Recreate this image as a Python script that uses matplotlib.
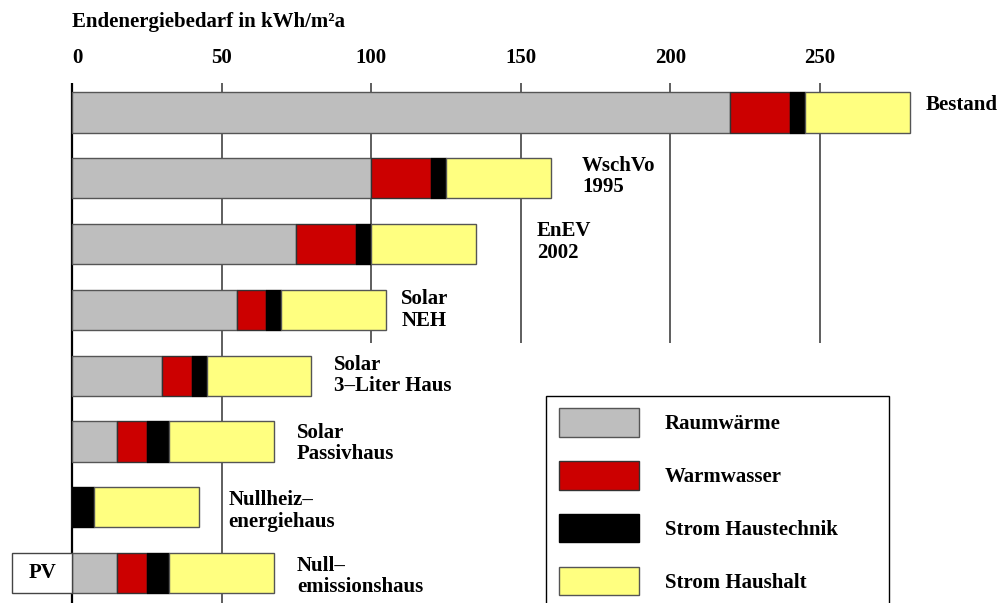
import numpy as np
import matplotlib
matplotlib.use("Agg")
import matplotlib.pyplot as plt

plt.rcParams['font.family'] = ['Liberation Serif', 'DejaVu Serif']
plt.rcParams['font.weight'] = 'bold'
plt.rcParams['font.size'] = 15

# data (kWh/m²a)
categories = ["Bestand", "WschVo\n1995", "EnEV\n2002", "Solar\nNEH",
              "Solar\n3–Liter Haus", "Solar\nPassivhaus",
              "Nullheiz–\nenergiehaus", "Null–\nemissionshaus"]
raumwaerme = [220, 100, 75, 55, 30, 15, 0, 15]
warmwasser = [20, 20, 20, 10, 10, 10, 0, 10]
haustechnik = [5, 5, 5, 5, 5, 7.5, 7.5, 7.5]
haushalt = [35, 35, 35, 35, 35, 35, 35, 35]
pv = -20  # PV credit for Nullemissionshaus

series = [raumwaerme, warmwasser, haustechnik, haushalt]
names = ["Raumwärme", "Warmwasser", "Strom Haustechnik", "Strom Haushalt"]
colors = ['#bebebe', '#cc0000', '#000000', '#ffff80']
edges = ['#555555', '#333333', '#000000', '#555555']
ticks = [0, 50, 100, 150, 200, 250]

# label placement (offset right of bar end, in kWh units)
label_dx = [5.3, 10.4, 20.4, 5.0, 7.7, 7.7, 9.7, 7.7]
label_dy = [-0.12, -0.03, -0.03, 0, 0, 0.03, 0.06, 0.05]

fig = plt.figure(figsize=(9.99, 6.03), dpi=100)
ax = fig.add_axes([0, 0, 1, 520 / 603])
ax.set_xlim(-24.06, 309.8)
ax.set_ylim(7.455, -0.448)

y = np.arange(len(categories))
bar_h = 0.61

# vertical grid lines
for t in ticks:
    ybot = 7.455 if t <= 50 else 3.5
    if t == 0:
        ax.vlines(t, -0.448, ybot, color='black', lw=1.6, zorder=1)
    else:
        ax.vlines(t, -0.448, ybot, color='#333333', lw=1.1, zorder=1)

left = np.zeros(len(categories))
handles = []
for vals, name, c, ec in zip(series, names, colors, edges):
    vals = np.array(vals, dtype=float)
    b = ax.barh(y, vals, left=left, height=bar_h, color=c, edgecolor=ec,
                linewidth=1.0, label=name, zorder=2)
    handles.append(b)
    left += vals

# PV bar
ax.barh(y[-1], pv, height=bar_h, color='white', edgecolor='#444444',
        linewidth=1.0, zorder=2)
ax.text(pv / 2, y[-1], "PV", ha='center', va='center', zorder=3)

for i, cat in enumerate(categories):
    ax.text(left[i] + label_dx[i], y[i] + label_dy[i], cat, ha='left',
            va='center', linespacing=1.1, zorder=3)

ax.xaxis.tick_top()
ax.set_xticks(ticks)
ax.tick_params(axis='x', length=0, pad=11, labelsize=15)
ax.get_xticklabels()[0].set_ha('left')
ax.set_yticks([])
for s in ax.spines.values():
    s.set_visible(False)

ax.text(0, 1.117, "Endenergiebedarf in kWh/m²a", transform=ax.get_xaxis_transform(),
        ha='left', va='center')

leg = ax.legend(handles=handles, loc='upper left',
                bbox_to_anchor=(546 / 999, 0, 343 / 999, 207 / 603),
                bbox_transform=fig.transFigure, mode='expand', borderaxespad=0,
                fancybox=False, framealpha=1, edgecolor='black',
                handlelength=3.84, handleheight=1.71, handletextpad=1.25,
                labelspacing=1.18, borderpad=0.6, fontsize=15)
leg.get_frame().set_linewidth(1.0)

plt.savefig("out.png", dpi=100)
